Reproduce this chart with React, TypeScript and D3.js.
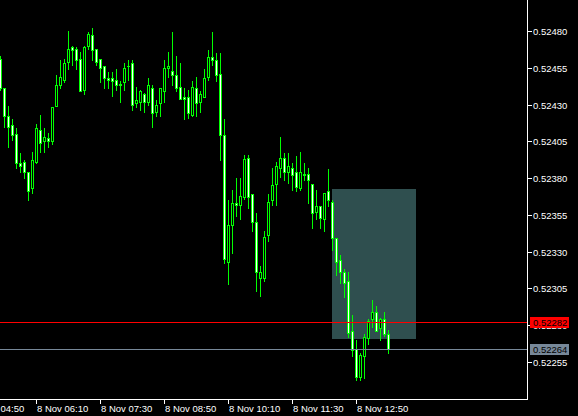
import React from 'react'
import * as d3 from 'd3'

// 5 minute bars, 8 Nov, first bar 05:25
const opens = [
  0.52461, 0.52441, 0.52422, 0.52416, 0.5241, 0.5239, 0.52391, 0.52384, 0.52373, 0.52391,
  0.52413, 0.52405, 0.52407, 0.52405, 0.52429, 0.52443, 0.52447, 0.52459, 0.52469, 0.52468,
  0.52461, 0.5244, 0.5247, 0.52477, 0.52468, 0.52461, 0.52456, 0.52448, 0.52448, 0.52447,
  0.52444, 0.52445, 0.52456, 0.52458, 0.52431, 0.52432, 0.52437, 0.52432, 0.52441, 0.52425,
  0.52431, 0.52439, 0.52455, 0.52453, 0.5245, 0.52442, 0.52435, 0.52435, 0.52423, 0.52441,
  0.52432, 0.52435, 0.52449, 0.52462, 0.5246, 0.52451, 0.52409, 0.52323, 0.52348, 0.52363,
  0.52362, 0.52367, 0.52394, 0.52369, 0.5235, 0.52312, 0.52312, 0.52341, 0.52365, 0.52376,
  0.52387, 0.52394, 0.52384, 0.52387, 0.52384, 0.52373, 0.52383, 0.52383, 0.52376, 0.52357,
  0.52361, 0.52352, 0.52371, 0.52364, 0.52339, 0.52324, 0.52316, 0.5231, 0.52276, 0.52264,
  0.52245, 0.52259, 0.52271, 0.52284, 0.52289, 0.52278, 0.52284, 0.52274,
]
const highs = [
  0.52463, 0.52441, 0.52429, 0.5242, 0.52414, 0.52397, 0.52392, 0.52384, 0.52398, 0.52417,
  0.52423, 0.52414, 0.52411, 0.52428, 0.5245, 0.5246, 0.52461, 0.5248, 0.5247, 0.52469,
  0.52466, 0.5247, 0.52479, 0.52482, 0.52468, 0.52461, 0.52456, 0.52452, 0.52452, 0.52454,
  0.52446, 0.52458, 0.5246, 0.5246, 0.52442, 0.5244, 0.52438, 0.52448, 0.52443, 0.52433,
  0.52441, 0.5246, 0.52466, 0.52479, 0.52463, 0.52458, 0.52441, 0.5244, 0.52446, 0.52449,
  0.52439, 0.52454, 0.52467, 0.52479, 0.52465, 0.52465, 0.5242, 0.52365, 0.52372, 0.5238,
  0.5238, 0.52396, 0.52396, 0.52369, 0.52356, 0.5232, 0.52344, 0.52369, 0.52387, 0.52391,
  0.52408, 0.52397, 0.52397, 0.5239, 0.52395, 0.52398, 0.5239, 0.52387, 0.52376, 0.52372,
  0.52361, 0.5237, 0.52386, 0.52365, 0.52339, 0.52328, 0.52318, 0.52316, 0.52287, 0.5227,
  0.52261, 0.52274, 0.52284, 0.52297, 0.52293, 0.52285, 0.52289, 0.52277,
]
const lows = [
  0.5244, 0.52415, 0.52401, 0.52406, 0.52387, 0.52384, 0.5238, 0.52365, 0.5237, 0.5239,
  0.52398, 0.52398, 0.52401, 0.52403, 0.52429, 0.52441, 0.52445, 0.52454, 0.52457, 0.52454,
  0.52439, 0.52437, 0.52468, 0.5246, 0.52457, 0.52445, 0.52441, 0.52441, 0.52436, 0.5244,
  0.52432, 0.5244, 0.52447, 0.52426, 0.52428, 0.52426, 0.52425, 0.5243, 0.52415, 0.52422,
  0.52422, 0.52432, 0.52449, 0.52443, 0.52439, 0.52434, 0.5242, 0.52421, 0.52422, 0.52422,
  0.52425, 0.52435, 0.52447, 0.52457, 0.52446, 0.52392, 0.52322, 0.52308, 0.52329, 0.52354,
  0.52352, 0.52366, 0.5236, 0.52344, 0.52303, 0.523, 0.5231, 0.52337, 0.52362, 0.52362,
  0.52381, 0.52379, 0.52377, 0.52372, 0.52371, 0.52372, 0.52379, 0.52363, 0.52346, 0.52352,
  0.52346, 0.52344, 0.52361, 0.52331, 0.52314, 0.52309, 0.52299, 0.52272, 0.52259, 0.52243,
  0.52243, 0.52244, 0.52267, 0.52279, 0.52276, 0.5227, 0.52273, 0.52261,
]
const closes = [
  0.52441, 0.52422, 0.52415, 0.52409, 0.5239, 0.52388, 0.52384, 0.52371, 0.52392, 0.52414,
  0.52404, 0.52408, 0.52405, 0.52428, 0.52443, 0.52449, 0.52458, 0.52468, 0.52467, 0.5246,
  0.52439, 0.52469, 0.52478, 0.52467, 0.52459, 0.52455, 0.52448, 0.52447, 0.52446, 0.52443,
  0.52443, 0.52455, 0.52456, 0.5243, 0.52433, 0.52439, 0.52432, 0.52443, 0.52424, 0.5243,
  0.52441, 0.52455, 0.52456, 0.5245, 0.52441, 0.52434, 0.52434, 0.52424, 0.52442, 0.52431,
  0.52437, 0.52448, 0.52462, 0.5246, 0.5245, 0.52409, 0.52325, 0.52348, 0.52363, 0.52362,
  0.52368, 0.52393, 0.52367, 0.5235, 0.52316, 0.52316, 0.5234, 0.52364, 0.52375, 0.52388,
  0.52394, 0.52384, 0.52388, 0.52382, 0.52374, 0.52384, 0.52382, 0.52379, 0.52356, 0.52361,
  0.52353, 0.5237, 0.52365, 0.52339, 0.52323, 0.52316, 0.52309, 0.52275, 0.52263, 0.52245,
  0.5226, 0.52272, 0.52283, 0.52289, 0.52276, 0.52284, 0.52274, 0.52264,
]

const firstBar = '05:25'
const barMinutes = 5
const dateLabel = '8 Nov'
const timeTicks = ['04:50', '06:10', '07:30', '08:50', '10:10', '11:30', '12:50']
const priceTicks = [0.5248, 0.52455, 0.5243, 0.52405, 0.5238, 0.52355, 0.5233, 0.52305, 0.5228, 0.52255]
const askPrice = 0.52282
const bidPrice = 0.52264
const boxTimes = ['12:20', '14:05']
const boxPrices = [0.523727, 0.522708]

const W = 578
const H = 416
const plotRight = 527
const plotBottom = 399
const green = '#00ff00'
const font = "'Liberation Sans', Arial, sans-serif"
const fs = 9.5

const toMin = (s: string) => {
  const [h, m] = s.split(':').map(Number)
  return h * 60 + m
}

export default function App() {
  const start = toMin(firstBar)
  const n = closes.length
  const x = d3.scaleLinear()
    .domain([start, start + (n - 1) * barMinutes])
    .range([0, (n - 1) * 4])
  const y = d3.scaleLinear().domain([0.52255, 0.5248]).range([362, 31])
  const py = (p: number) => Math.round(y(p))

  const bars = d3.range(n).map(i => ({
    t: start + i * barMinutes,
    o: opens[i], h: highs[i], l: lows[i], c: closes[i],
  }))

  const bx0 = Math.round(x(toMin(boxTimes[0])))
  const bx1 = Math.round(x(toMin(boxTimes[1])))
  const by0 = py(boxPrices[0])
  const by1 = py(boxPrices[1])

  const priceLabel = (p: number, bg: string, key: string) => {
    const yy = py(p)
    return (
      <g key={key}>
        <rect x={530} y={yy - 5} width={39} height={11} fill={bg} />
        <text x={533} y={yy + 4} fill="#000" fontSize={fs} fontFamily={font}>{p.toFixed(5)}</text>
      </g>
    )
  }

  return (
    <svg width={W} height={H} style={{ position: 'absolute', left: 0, top: 0, display: 'block' }}>
      <rect width={W} height={H} fill="#000" />
      <rect x={bx0} y={by0} width={bx1 - bx0} height={by1 - by0} fill="#2f4f4f" />

      <g shapeRendering="crispEdges">
        {bars.map((b, i) => {
          const cx = Math.round(x(b.t))
          const top = py(Math.max(b.o, b.c))
          const bot = py(Math.min(b.o, b.c))
          const bull = b.c > b.o
          return (
            <g key={i}>
              <line x1={cx + 0.5} x2={cx + 0.5} y1={py(b.h)} y2={py(b.l) + 1} stroke={green} />
              {bot - top < 1
                ? <line x1={cx - 1} x2={cx + 2} y1={top + 0.5} y2={top + 0.5} stroke={green} />
                : <rect x={cx - 0.5} y={top + 0.5} width={2} height={bot - top}
                    fill={bull ? '#000' : '#fff'} stroke={green} />}
            </g>
          )
        })}
      </g>

      <g shapeRendering="crispEdges">
        <line x1={0} x2={plotRight} y1={py(askPrice) + 0.5} y2={py(askPrice) + 0.5} stroke="#ff0000" />
        <line x1={0} x2={plotRight} y1={py(bidPrice) + 0.5} y2={py(bidPrice) + 0.5} stroke="#778899" />
        <line x1={plotRight + 0.5} x2={plotRight + 0.5} y1={0} y2={plotBottom + 1} stroke="#fff" />
        <line x1={0} x2={plotRight + 1} y1={plotBottom + 0.5} y2={plotBottom + 0.5} stroke="#fff" />
        {priceTicks.map(p => (
          <line key={p} x1={plotRight} x2={plotRight + 5} y1={py(p) + 0.5} y2={py(p) + 0.5} stroke="#fff" />
        ))}
        {timeTicks.map(t => {
          const tx = Math.round(x(toMin(t)))
          return <line key={t} x1={tx + 0.5} x2={tx + 0.5} y1={plotBottom} y2={plotBottom + 5} stroke="#fff" />
        })}
      </g>

      {priceTicks.map(p => (
        <text key={p} x={533} y={py(p) + 4} fill="#fff" fontSize={fs} fontFamily={font}>{p.toFixed(5)}</text>
      ))}
      {timeTicks.map(t => (
        <text key={t} x={Math.round(x(toMin(t))) + 1} y={412} fill="#fff" fontSize={fs} fontFamily={font}>
          {`${dateLabel} ${t}`}
        </text>
      ))}

      {priceLabel(askPrice, '#ff0000', 'ask')}
      {priceLabel(bidPrice, '#778899', 'bid')}
    </svg>
  )
}
